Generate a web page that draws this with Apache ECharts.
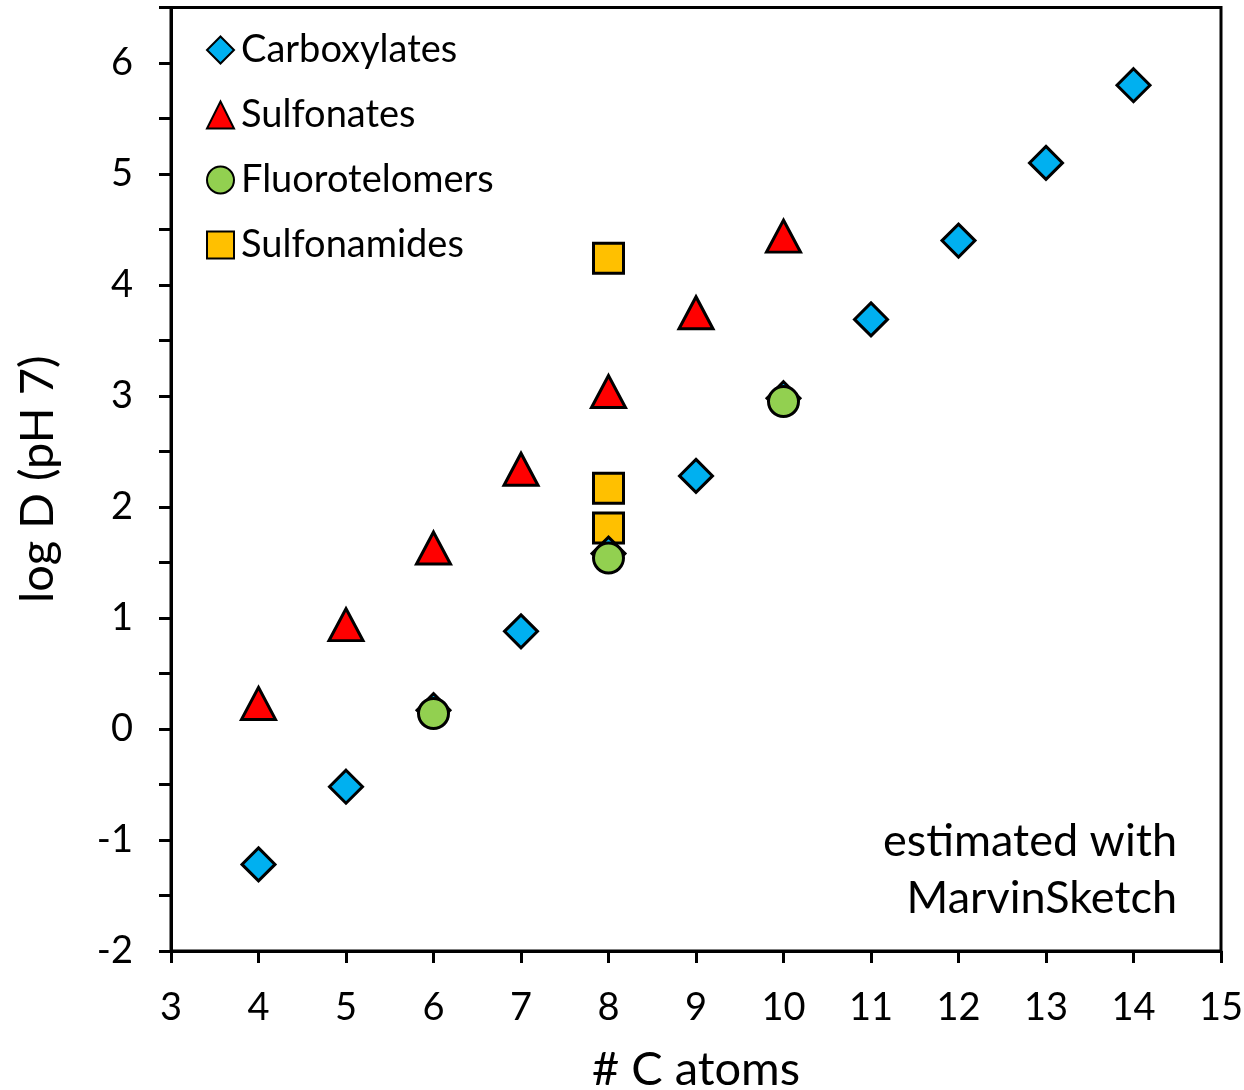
<!DOCTYPE html>
<html>
<head>
<meta charset="utf-8">
<script src="https://cdn.jsdelivr.net/npm/echarts@6/dist/echarts.min.js"></script>
<style>
html,body{margin:0;padding:0;background:#fff;}
#chart{width:1244px;height:1090px;}
</style>
</head>
<body>
<div id="chart"></div>
<script>
// values: [# C atoms, log D]
var carboxylates = [[4,-1.22],[5,-0.52],[6,0.17],[7,0.88],[8,1.58],[9,2.28],[10,2.98],[11,3.69],[12,4.4],[13,5.1],[14,5.8]];
var sulfonates = [[4,0.23],[5,0.94],[6,1.63],[7,2.34],[8,3.04],[9,3.75],[10,4.44]];
var fluorotelomers = [[6,0.14],[8,1.54],[10,2.95]];
var sulfonamides = [[8,4.24],[8,2.17],[8,1.81]];
var names = ['Carboxylates','Sulfonates','Fluorotelomers','Sulfonamides'];
var note = ['estimated with','MarvinSketch'];

var font = 'Lato, "Open Sans", sans-serif';
var chart = echarts.init(document.getElementById('chart'));

function mk(name, data, symbol, size, color, z){
	return {
		name: name, type: 'scatter', data: data,
		symbol: symbol, symbolSize: size, z: z,
		itemStyle: {color: color, borderColor: '#000', borderWidth: 3, opacity: 1},
		emphasis: {disabled: true}
	};
}

var option = {
	animation: false,
	textStyle: {fontFamily: font},
	grid: {left: 171, right: 23, top: 7.5, bottom: 139, show: true, borderColor: '#000', borderWidth: 3,
		containLabel: false, outerBoundsMode: 'none'},
	legend: {
		orient: 'vertical', left: 201, top: 26,
		data: names, itemWidth: 27, itemHeight: 27, itemGap: 27,
		textStyle: {fontSize: 38, color: '#000', fontFamily: font, lineHeight: 38, padding: [0,0,0,2]},
		selectedMode: false
	},
	xAxis: {
		type: 'value', min: 3, max: 15, interval: 1,
		name: '# C atoms', nameLocation: 'middle', nameGap: 95,
		nameTextStyle: {fontSize: 47, color: '#000', fontFamily: font},
		axisLine: {show: true, onZero: false, lineStyle: {color: '#000', width: 3}},
		axisTick: {show: true, inside: false, length: 12, lineStyle: {color: '#000', width: 3}},
		axisLabel: {fontSize: 38, color: '#000', margin: 38, fontFamily: font},
		splitLine: {show: false}
	},
	yAxis: {
		type: 'value', min: -2, max: 6.5, interval: 1,
		name: 'log D (pH 7)', nameLocation: 'middle', nameGap: 110, nameRotate: 90,
		nameTextStyle: {fontSize: 47, color: '#000', fontFamily: font},
		axisLine: {show: true, onZero: false, lineStyle: {color: '#000', width: 3}},
		axisTick: {show: true, inside: false, length: 12, lineStyle: {color: '#000', width: 3}},
		minorTick: {show: true, splitNumber: 2, length: 12, lineStyle: {color: '#000', width: 3}},
		axisLabel: {fontSize: 38, color: '#000', margin: 38, fontFamily: font,
			formatter: function(v){ return v > 6 ? '' : v; }},
		splitLine: {show: false}
	},
	graphic: note.map(function(t, i){
		return {
			type: 'text', right: 67, top: 819 + i * 57,
			style: {text: t, fill: '#000', font: '45px ' + font}
		};
	}),
	series: [
		mk('Carboxylates', carboxylates, 'diamond', 33, '#00B0F0', 2),
		mk('Sulfonates', sulfonates, 'triangle', [34,32], '#FF0000', 2),
		mk('Fluorotelomers', fluorotelomers, 'circle', 30, '#92D050', 3),
		mk('Sulfonamides', sulfonamides, 'rect', 30, '#FFC000', 1)
	]
};
chart.setOption(option);
</script>
</body>
</html>
